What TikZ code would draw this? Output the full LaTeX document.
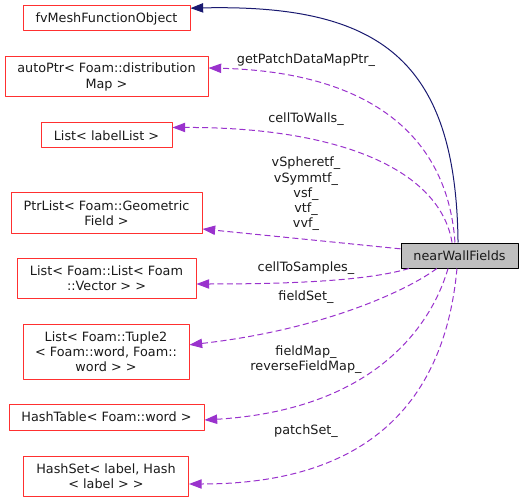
\documentclass[tikz,border=0pt]{standalone}
\usepackage{fontspec}
\setsansfont{DejaVu Sans}
\usetikzlibrary{arrows.meta}
\definecolor{ink}{HTML}{1A1A1A}
\definecolor{boxred}{HTML}{FF3030}
\definecolor{membcol}{HTML}{9A32CD}
\definecolor{basecol}{HTML}{191970}
\definecolor{selfcol}{HTML}{BFBFBF}

\begin{document}
\begin{tikzpicture}[
  x=0.75pt, y=-0.75pt,
  font=\sffamily\fontsize{9.6}{11.4}\selectfont, line join=round,
  sz/.style 2 args={minimum width={#1*0.75pt}, minimum height={#2*0.75pt}},
  cls/.style={draw=boxred, line width=0.75pt, inner sep=0pt, align=center, text=ink},
  self/.style={draw=black, fill=selfcol, line width=0.75pt, inner sep=0pt, text=ink},
  memb/.style={membcol, line width=0.75pt, dash pattern=on 4.5pt off 2.5pt,
               -{Triangle[length=9.5pt, width=7pt]}},
  inh/.style={basecol, line width=0.75pt, -{Triangle[length=9.5pt, width=7pt]}},
  lbl/.style={text=ink, align=center, inner sep=0pt}]

\useasboundingbox (0,0) rectangle (524,502);

% ==================================================== the used classes
\node[cls, sz={167}{25}] (fvm)  at (106.5,18.5) {fvMeshFunctionObject};
\node[cls, sz={203}{40}] (aptr) at (106.5,77)   {autoPtr< Foam::distribution\\Map >};
\node[cls, sz={131}{25}] (llst) at (106.5,135.5) {List< labelList >};
\node[cls, sz={191}{40}] (ptr)  at (106.5,213)  {PtrList< Foam::Geometric\\Field >};
\node[cls, sz={179}{40}] (lvec) at (106.5,278)  {List< Foam::List< Foam\\::Vector > >};
\node[cls, sz={166}{55}] (tup)  at (106,351.5)  {List< Foam::Tuple2\\< Foam::word, Foam::\\word > >};
\node[cls, sz={195}{26}] (htab) at (106.5,417)  {HashTable< Foam::word >};
\node[cls, sz={165}{40}] (hset) at (106,476)    {HashSet< label, Hash\\< label > >};

% ==================================================== the class itself
\node[self, sz={117}{25}] (nwf) at (459.5,255.5) {nearWallFields};

% base class
\draw[inh] ([xshift=-1.1pt]nwf.north)
  .. controls (456,60) and (380,4) .. ([yshift=-2pt]fvm.north east);

% members
\draw[memb] ([xshift=-3.4pt]nwf.north)
  .. controls (448,140) and (375,72) .. ([yshift=6.75pt]aptr.east);
\node[lbl] (l1) at (306,60) {getPatchDataMapPtr\_};

\draw[memb] ([xshift=-5.6pt]nwf.north)
  .. controls (440,170) and (340,127) .. ([yshift=6pt]llst.east);
\node[lbl] (l2) at (306,119) {cellToWalls\_};

\draw[memb] ([yshift=5pt]nwf.west) -- ([yshift=-12pt]ptr.east);
\node[lbl] (l3) at (306,194) {vSpheretf\_\\vSymmtf\_\\vsf\_\\vtf\_\\vvf\_};

\draw[memb] ([xshift=6.4pt]nwf.south west)
  .. controls (370,280) and (300,284) .. ([yshift=-4.5pt]lvec.east);
\node[lbl] (l4) at (306,268) {cellToSamples\_};

\draw[memb] ([xshift=-17pt]nwf.south)
  .. controls (405,292) and (320,330) .. ([yshift=5pt]tup.east);
\node[lbl] (l5) at (306,297) {fieldSet\_};

\draw[memb] ([xshift=-8.6pt]nwf.south)
  .. controls (430,330) and (370,410) .. ([yshift=-2.25pt]htab.east);
\node[lbl] (l6) at (306,360) {fieldMap\_\\reverseFieldMap\_};

\draw[memb] ([xshift=-1.9pt]nwf.south)
  .. controls (445,400) and (370,484) .. ([yshift=-6pt]hset.east);
\node[lbl] (l7) at (306,431) {patchSet\_};

\end{tikzpicture}
\end{document}
